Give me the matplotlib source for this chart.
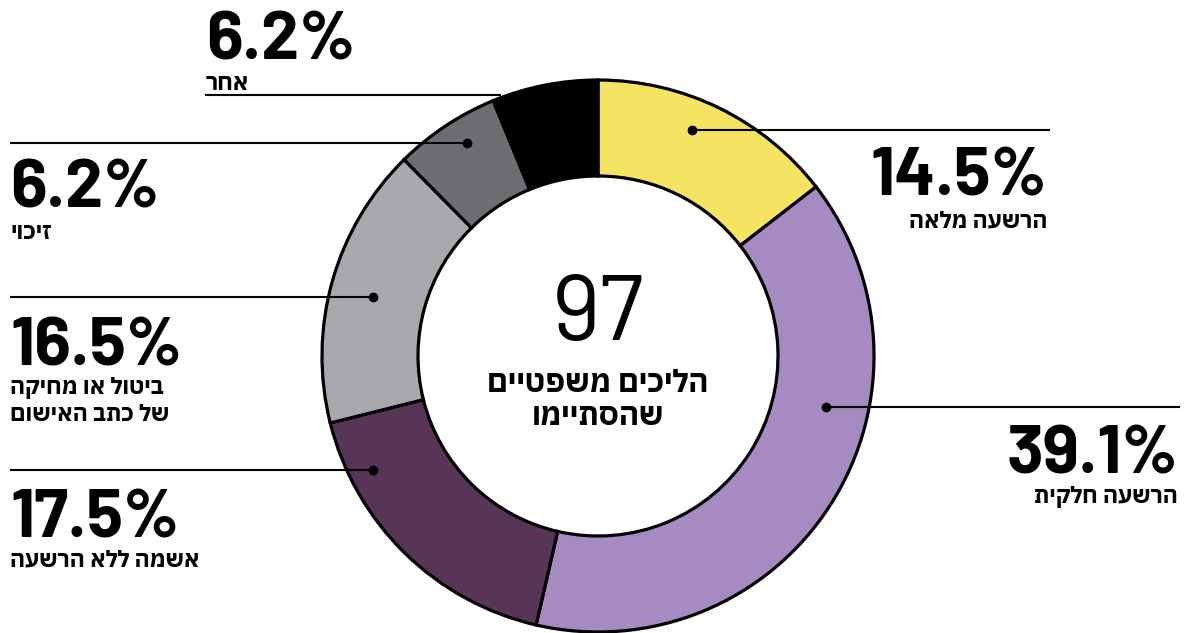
import matplotlib
matplotlib.use("Agg")
import matplotlib.pyplot as plt

# ---- data ----
categories = ["הרשעה מלאה", "הרשעה חלקית", "אשמה ללא הרשעה",
              "ביטול או מחיקה\nשל כתב האישום", "זיכוי", "אחר"]
shares = [14.5, 39.1, 17.5, 16.5, 6.2, 6.2]
colors = ["#F4E462", "#A68BC2", "#573556", "#A8A9AD", "#6D6E71", "#000000"]
total_cases = 97
center_label = "הליכים משפטיים\nשהסתיימו"

# ---- layout (pixel space, y measured from top) ----
W, H = 1188, 633
CX, CY = 598, 356
R_OUT, R_IN = 276, 180
layout = [
    dict(ly=130, x0=692, x1=1050, dot=True, tx=1047, ha="right", pb=196, lb=227),
    dict(ly=407, x0=826, x1=1180, dot=True, tx=1178, ha="right", pb=474, lb=503),
    dict(ly=470, x0=10, x1=373, dot=True, tx=10, ha="left", pb=538, lb=566),
    dict(ly=297, x0=10, x1=373, dot=True, tx=10, ha="left", pb=365, lb=394),
    dict(ly=143, x0=10, x1=467, dot=True, tx=10, ha="left", pb=208, lb=239),
    dict(ly=95, x0=205, x1=501, dot=False, tx=206, ha="left", pb=60, lb=90),
]

PCT_FONT = ["Barlow", "DejaVu Sans"]
NUM_FONT = ["Barlow", "DejaVu Sans"]
HEB_FONT = ["IBM Plex Sans Hebrew", "DejaVu Sans"]


def Y(py):
    return H - py


def rtl(s):
    return s[::-1]


fig = plt.figure(figsize=(W / 100, H / 100), dpi=100)
ax = fig.add_axes([0, 0, 1, 1])

ax.pie(shares, colors=colors, startangle=90, counterclock=False,
       radius=R_OUT, center=(CX, Y(CY)),
       wedgeprops=dict(width=R_OUT - R_IN, edgecolor="black", linewidth=2.3))

ax.set_xlim(0, W)
ax.set_ylim(0, H)
ax.set_aspect("equal")
ax.axis("off")

for cat, val, lay in zip(categories, shares, layout):
    ax.plot([lay["x0"], lay["x1"]], [Y(lay["ly"])] * 2, color="black", lw=1.5,
            zorder=5, solid_capstyle="butt")
    if lay["dot"]:
        dx = lay["x1"] if lay["ha"] == "left" else lay["x0"]
        ax.plot([dx], [Y(lay["ly"])], "o", color="black", ms=6, zorder=6)
    ax.text(lay["tx"], Y(lay["pb"]), f"{val:.1f}%", ha=lay["ha"], va="baseline",
            fontsize=49, fontweight="bold", family=PCT_FONT, color="black")
    for i, line in enumerate(cat.split("\n")):
        ax.text(lay["tx"], Y(lay["lb"] + i * 27), rtl(line), ha=lay["ha"],
                va="baseline", fontsize=16.5, fontweight="bold", family=HEB_FONT,
                color="black")

ax.text(CX, Y(340), str(total_cases), ha="center", va="baseline", fontsize=67,
        family=NUM_FONT, color="black")
for i, line in enumerate(center_label.split("\n")):
    ax.text(CX, Y(392 + i * 33), rtl(line), ha="center", va="baseline",
            fontsize=22, fontweight="bold", family=HEB_FONT, color="black")

fig.savefig("out.png", dpi=100)
